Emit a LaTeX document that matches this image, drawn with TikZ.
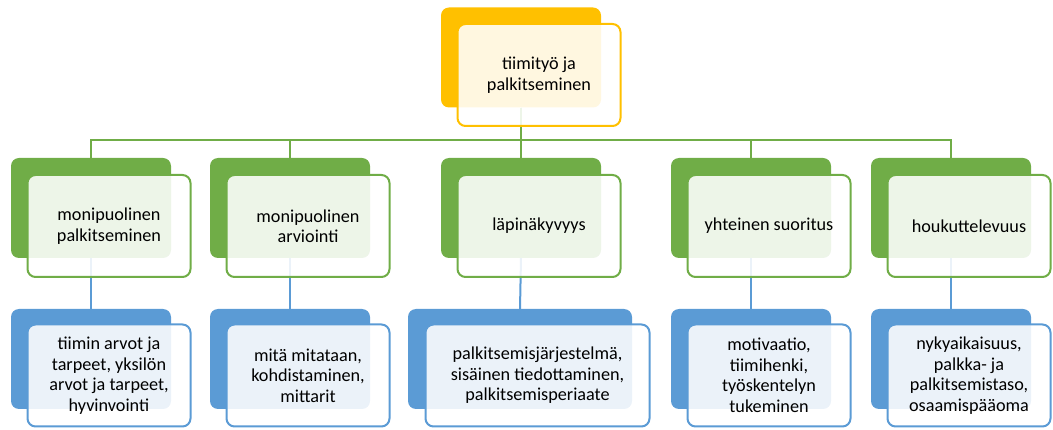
\documentclass[tikz,border=0pt]{standalone}
\usepackage{fontspec}
\setmainfont{Carlito}
\definecolor{org}{HTML}{FFC000}
\definecolor{grn}{HTML}{70AD47}
\definecolor{blu}{HTML}{5B9BD5}
\begin{document}
\begin{tikzpicture}[x=1pt,y=-1pt,
  back/.style={rectangle,rounded corners=8pt,minimum width=160pt,minimum height=100pt,inner sep=0pt,fill=#1},
  front/.style={rectangle,rounded corners=8pt,minimum width=163pt,minimum height=102pt,inner sep=0pt,draw=#1,line width=2pt,fill=white,fill opacity=0.88,text opacity=1,align=center,font=\fontsize{18.2pt}{20.5pt}\selectfont},
  conn/.style={line width=2pt,draw=#1}
]
\useasboundingbox (0,0) rectangle (1053,430);
% coordinates for back-box centers
\path (521,57.5) coordinate (pt)
      (91,208) coordinate (pg1) (290,208) coordinate (pg2) (521,208) coordinate (pg3) (751,208) coordinate (pg4) (951,208) coordinate (pg5)
      (91,359) coordinate (pb1) (290,359) coordinate (pb2) (520,359) coordinate (pb3) (751,359) coordinate (pb4) (951,359) coordinate (pb5);
% back boxes
\node[back=org] (t) at (pt) {};
\foreach \i in {1,...,5}{\node[back=grn] (g\i) at (pg\i) {};}
\node[back=blu] (b1) at (pb1) {};
\node[back=blu] (b2) at (pb2) {};
\node[back=blu,minimum width=224pt] (b3) at (pb3) {};
\node[back=blu] (b4) at (pb4) {};
\node[back=blu] (b5) at (pb5) {};
% connectors (under the front boxes)
\foreach \i in {1,...,5}{
  \draw[conn=grn] (t.south) -- ++(0,32) -| (g\i.north);
  \draw[conn=blu] (g\i.south) -- (b\i.north);
}
% front boxes
\node[front=org] (ft) at ([shift={(18,17.5)}]pt) {tiimityö ja\\palkitseminen};
\node[front=grn] (fg1) at ([shift={(18,18)}]pg1) {monipuolinen\\palkitseminen};
\node[front=grn] (fg2) at ([shift={(18,18)}]pg2) {monipuolinen\\arviointi};
\node[front=grn] (fg3) at ([shift={(18,18)}]pg3) {läpinäkyvyys};
\node[front=grn] (fg4) at ([shift={(18,18)}]pg4) {yhteinen suoritus};
\node[front=grn] (fg5) at ([shift={(18,18)}]pg5) {houkuttelevuus};
\node[front=blu] (fb1) at ([shift={(18,16.5)}]pb1) {tiimin arvot ja\\tarpeet, yksilön\\arvot ja tarpeet,\\hyvinvointi};
\node[front=blu] (fb2) at ([shift={(18,16.5)}]pb2) {mitä mitataan,\\kohdistaminen,\\mittarit};
\node[front=blu,minimum width=224pt] (fb3) at ([shift={(17.5,16.5)}]pb3) {palkitsemisjärjestelmä,\\sisäinen tiedottaminen,\\palkitsemisperiaate};
\node[front=blu] (fb4) at ([shift={(18,16.5)}]pb4) {motivaatio,\\tiimihenki,\\työskentelyn\\tukeminen};
\node[front=blu] (fb5) at ([shift={(18,16.5)}]pb5) {nykyaikaisuus,\\palkka- ja\\palkitsemistaso,\\osaamispääoma};
\end{tikzpicture}
\end{document}
